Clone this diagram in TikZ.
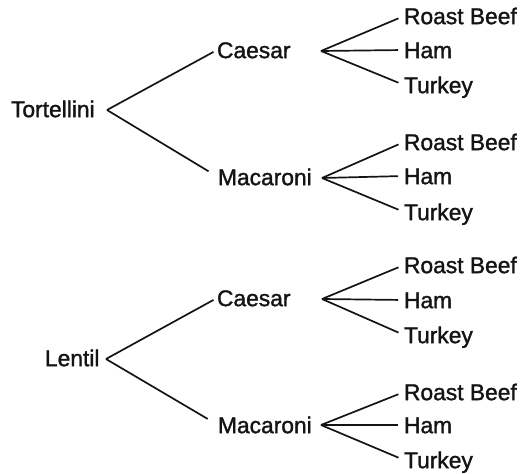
\documentclass[tikz,border=0pt]{standalone}
\usepackage{fontspec}
\setmainfont{Liberation Sans}
\newfontfamily\medfont[FakeBold=1.4]{Liberation Sans}
\begin{document}
\begin{tikzpicture}[x=1bp,y=-1bp,
  lbl/.style={anchor=west,inner sep=0pt,outer sep=0pt,text height=16.3bp,text depth=0pt,
    font=\medfont\fontsize{22.8bp}{27bp}\selectfont,text=black!92},
  conn/.style={line width=1.7bp,black!92}]
\useasboundingbox (0,0) rectangle (528,474);
% level 1
\node[lbl] (tort) at (11,109) {Tortellini};
\node[lbl] (lent) at (45,358) {Lentil};
\coordinate (t0) at (107,110);
\coordinate (l0) at (106,359);
% level 2
\node[lbl] (c1) at (217,50) {Caesar};
\node[lbl] (m1) at (218,177) {Macaroni};
\node[lbl] (c2) at (217,298) {Caesar};
\node[lbl] (m2) at (218,425) {Macaroni};
\coordinate (f1) at (321,51);
\coordinate (f2) at (322,178);
\coordinate (f3) at (322,299);
\coordinate (f4) at (321,425);
% level 3
\node[lbl] (r1) at (404,16) {Roast Beef};
\node[lbl] (h1) at (404,50) {Ham};
\node[lbl] (k1) at (404,85) {Turkey};
\node[lbl] (r2) at (404,142) {Roast Beef};
\node[lbl] (h2) at (404,176) {Ham};
\node[lbl] (k2) at (404,212) {Turkey};
\node[lbl] (r3) at (404,265) {Roast Beef};
\node[lbl] (h3) at (404,300) {Ham};
\node[lbl] (k3) at (404,335) {Turkey};
\node[lbl] (r4) at (404,392) {Roast Beef};
\node[lbl] (h4) at (404,425) {Ham};
\node[lbl] (k4) at (404,460) {Turkey};
% connectors
\draw[conn,shorten >=4bp] (t0) -- (c1.west);
\draw[conn,shorten >=11bp] (t0) -- (m1.west);
\draw[conn,shorten >=4bp] (l0) -- (c2.west);
\draw[conn,shorten >=12bp] (l0) -- (m2.west);
\foreach \f/\i in {f1/1,f2/2,f3/3,f4/4}{
  \draw[conn,shorten >=6bp] (\f) -- (r\i.west);
  \draw[conn,shorten >=6bp] (\f) -- (h\i.west);
  \draw[conn,shorten >=6bp] (\f) -- (k\i.west);
}
\end{tikzpicture}
\end{document}
